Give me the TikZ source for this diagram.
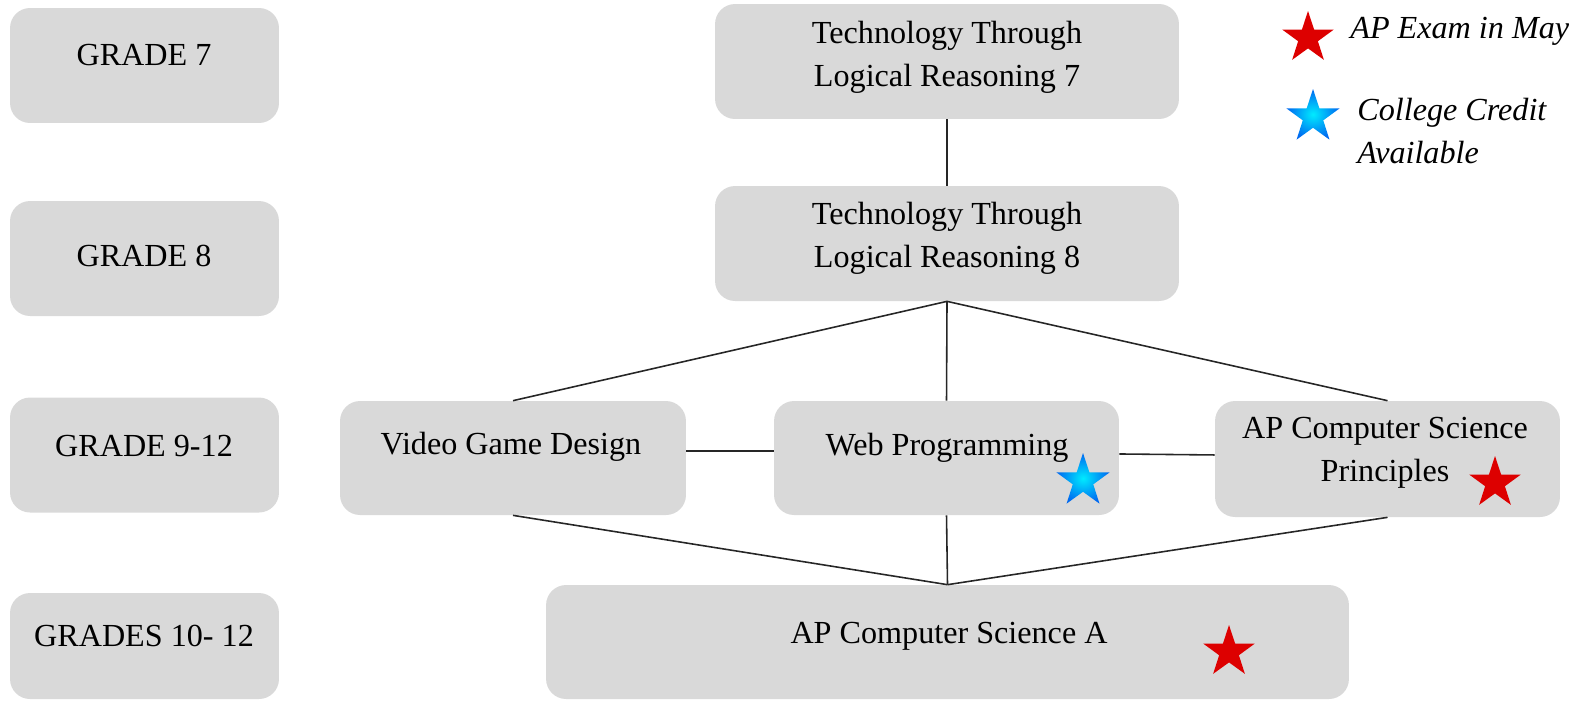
\documentclass[tikz,border=0pt]{standalone}
\usepackage{fontspec}
\setmainfont{Liberation Serif}
\usetikzlibrary{shapes.geometric}
\definecolor{boxgray}{RGB}{217,217,217}
\definecolor{starred}{RGB}{221,0,0}
\definecolor{starblue}{RGB}{0,105,240}
\definecolor{starcyan}{RGB}{0,235,255}
\tikzset{
  box/.style={fill=boxgray, rounded corners=0.4cm, inner sep=0},
  txt/.style={font=\fontsize{18.3}{24.4}\selectfont, align=center, inner sep=0},
  legendtxt/.style={font=\fontsize{18.3}{24.4}\selectfont\itshape, align=left, inner sep=0},
  link/.style={line width=0.9pt, black!85},
  redstar/.style={star, star points=5, star point ratio=2.6, minimum size=1.08cm, inner sep=0, fill=starred},
  bluestar/.style={star, star points=5, star point ratio=2.6, minimum size=1.12cm, inner sep=0, shading=radial, inner color=starcyan, outer color=starblue}
}
\begin{document}
\begin{tikzpicture}[x=0.02cm,y=-0.02cm]
\useasboundingbox (0,0) rectangle (1577,701);

% grade column
\node[box, minimum width=5.38cm, minimum height=2.3cm] (g7) at (144.5,65.5) {};
\node[box, minimum width=5.38cm, minimum height=2.3cm] (g8) at (144.5,258.5) {};
\node[box, minimum width=5.38cm, minimum height=2.3cm] (g9) at (144.5,455) {};
\node[box, minimum width=5.38cm, minimum height=2.12cm] (g10) at (144.5,646) {};
\node[txt] (g7t) at (144,55) {GRADE 7};
\node[txt] (g8t) at (144,256) {GRADE 8};
\node[txt] (g9t) at (144,446) {GRADE 9-12};
\node[txt] (g10t) at (144,636) {GRADES 10- 12};

% courses
\node[box, minimum width=9.28cm, minimum height=2.3cm] (tl7) at (947,61.5) {};
\node[box, minimum width=9.28cm, minimum height=2.3cm] (tl8) at (947,243.5) {};
\node[box, minimum width=6.92cm, minimum height=2.28cm] (vgd) at (513,458) {};
\node[box, minimum width=6.9cm, minimum height=2.28cm] (web) at (946.5,458) {};
\node[box, minimum width=6.9cm, minimum height=2.32cm] (csp) at (1387.5,459) {};
\node[box, minimum width=16.06cm, minimum height=2.28cm] (csa) at (947.5,642) {};
\node[txt] (tl7t) at (947,57) {Technology Through\\Logical Reasoning 7};
\node[txt] (tl8t) at (947,238) {Technology Through\\Logical Reasoning 8};
\node[txt] (vgdt) at (511,447) {Video Game Design};
\node[txt] (webt) at (947,448) {Web Programming};
\node[txt] (cspt) at (1385,453) {AP Computer Science\\Principles};
\node[txt] (csat) at (949,636) {AP Computer Science A};

% stars
\node[bluestar] (webstar) at (1083,481) {};
\node[redstar] (cspstar) at (1495,483) {};
\node[redstar] (csastar) at (1229,652) {};

% links
\draw[link] (tl7) -- (tl8);
\draw[link] (tl8.south) -- (vgd.north);
\draw[link] (tl8.south) -- (web.north);
\draw[link] (tl8.south) -- (csp.north);
\draw[link] ([yshift=4pt]vgd.east) -- ([yshift=4pt]web.west);
\draw[link] ([yshift=2.3pt]web.east) -- ([yshift=2.3pt]csp.west);
\draw[link] (vgd.south) -- (csa.north);
\draw[link] (web.south) -- (csa.north);
\draw[link] (csp.south) -- (csa.north);

% legend
\node[redstar] (keyred) at (1308,38) {};
\node[legendtxt, anchor=west] (keyredt) at (1350,31) {AP Exam in May};
\node[bluestar] (keyblue) at (1313,117) {};
\node[legendtxt, anchor=west] (keybluet) at (1357,131) {College Credit\\Available};
\end{tikzpicture}
\end{document}
